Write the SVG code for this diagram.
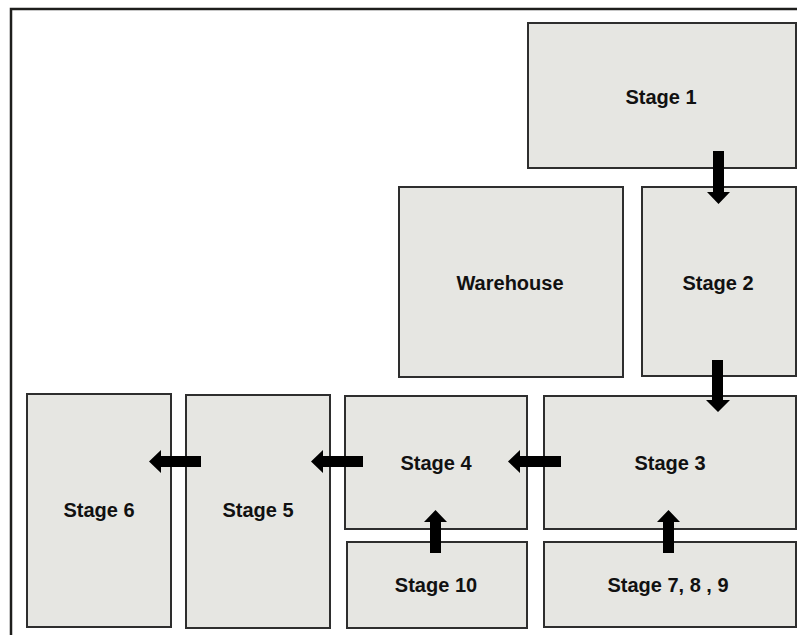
<svg xmlns="http://www.w3.org/2000/svg" width="797" height="635" viewBox="0 0 797 635">
  <style>
    .box { fill: #e6e6e2; stroke: #2e2e2e; stroke-width: 2; }
    .lbl { font-family: "Liberation Sans", Arial, sans-serif; font-weight: bold; font-size: 20px; fill: #111; text-anchor: middle; }
    .arr { fill: #000; }
  </style>
  <rect width="797" height="635" fill="#fff"/>
  <!-- outer frame -->
  <path d="M11 640 V9 H800" fill="none" stroke="#1e1e1c" stroke-width="2.5"/>

  <g id="stage1"><rect class="box" x="528" y="23" width="268" height="145"/><text class="lbl" x="661" y="104">Stage 1</text></g>
  <g id="warehouse"><rect class="box" x="399" y="187" width="224" height="190"/><text class="lbl" x="510" y="290">Warehouse</text></g>
  <g id="stage2"><rect class="box" x="642" y="187" width="154" height="189"/><text class="lbl" x="718" y="290">Stage 2</text></g>
  <g id="stage6"><rect class="box" x="27" y="394" width="144" height="233"/><text class="lbl" x="99" y="517">Stage 6</text></g>
  <g id="stage5"><rect class="box" x="186" y="395" width="144" height="233"/><text class="lbl" x="258" y="517">Stage 5</text></g>
  <g id="stage4"><rect class="box" x="345" y="396" width="182" height="133"/><text class="lbl" x="436" y="470">Stage 4</text></g>
  <g id="stage3"><rect class="box" x="544" y="396" width="252" height="133"/><text class="lbl" x="670" y="470">Stage 3</text></g>
  <g id="stage10"><rect class="box" x="347" y="542" width="180" height="86"/><text class="lbl" x="436" y="592">Stage 10</text></g>
  <g id="stage789"><rect class="box" x="544" y="542" width="252" height="85"/><text class="lbl" x="668" y="592">Stage 7, 8 , 9</text></g>

  <g id="connectors">
    <!-- 1 to 2 -->
    <path class="arr" d="M713 151 H724 V192 H730 L718.5 204 L707 192 H713 Z"/>
    <!-- 2 to 3 -->
    <path class="arr" d="M712 360 H723 V400 H730 L718 412 L706 400 H712 Z"/>
    <!-- 3 to 4 -->
    <path class="arr" d="M561 456 V467 H520 V473 L508 461.5 L520 450 V456 Z"/>
    <!-- 4 to 5 -->
    <path class="arr" d="M363 456 V467 H323 V473 L311 461.5 L323 450 V456 Z"/>
    <!-- 5 to 6 -->
    <path class="arr" d="M201 456 V467 H161 V473 L149 461.5 L161 450 V456 Z"/>
    <!-- 10 to 4 -->
    <path class="arr" d="M430 553 H441 V522 H447 L435.5 510 L424 522 H430 Z"/>
    <!-- 7,8,9 to 3 -->
    <path class="arr" d="M663 553 H674 V522 H680 L668.5 510 L657 522 H663 Z"/>
  </g>
</svg>
